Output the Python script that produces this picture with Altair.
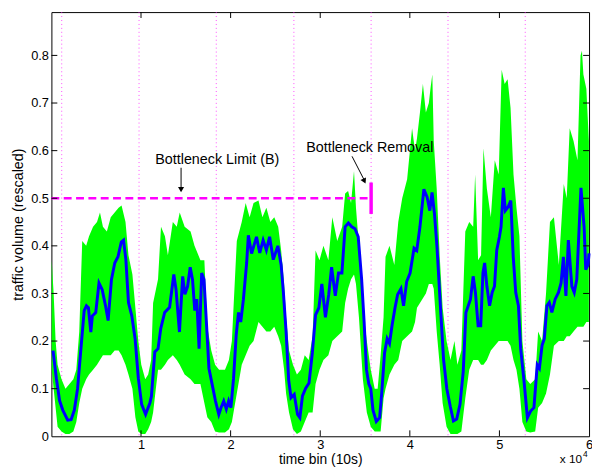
import altair as alt
import pandas as pd

FONT = "Liberation Sans, Arial, Helvetica, sans-serif"

# smoothed series (blue), x in units of 10^4 time bins
blue_x = [0.018, 0.055, 0.091, 0.127, 0.182, 0.220, 0.256, 0.292, 0.330, 0.366,
          0.391, 0.413, 0.440, 0.457, 0.495, 0.531, 0.567, 0.604, 0.633, 0.670,
          0.707, 0.743, 0.780, 0.805, 0.831, 0.860, 0.897, 0.934, 0.970, 1.007,
          1.051, 1.099, 1.116, 1.154, 1.190, 1.220, 1.264, 1.319, 1.366, 1.391,
          1.429, 1.465, 1.490, 1.520, 1.549, 1.575, 1.600, 1.622, 1.648, 1.677,
          1.703, 1.732, 1.758, 1.795, 1.831, 1.868, 1.893, 1.923, 1.952, 1.978,
          2.003, 2.033, 2.062, 2.088, 2.113, 2.143, 2.179, 2.198, 2.234, 2.289,
          2.325, 2.363, 2.399, 2.435, 2.476, 2.527, 2.564, 2.589, 2.619, 2.648,
          2.674, 2.710, 2.747, 2.773, 2.802, 2.838, 2.875, 2.912, 2.948, 2.985,
          3.018, 3.058, 3.095, 3.127, 3.168, 3.204, 3.242, 3.278, 3.314, 3.352,
          3.388, 3.424, 3.462, 3.490, 3.516, 3.542, 3.564, 3.589, 3.626, 3.663,
          3.688, 3.718, 3.747, 3.773, 3.802, 3.835, 3.864, 3.901, 3.930, 3.965,
          4.003, 4.047, 4.077, 4.113, 4.157, 4.193, 4.223, 4.248, 4.275, 4.303,
          4.341, 4.377, 4.413, 4.451, 4.487, 4.523, 4.560, 4.596, 4.626, 4.652,
          4.677, 4.707, 4.732, 4.762, 4.791, 4.816, 4.835, 4.860, 4.890, 4.919,
          4.945, 4.970, 5.000, 5.018, 5.044, 5.066, 5.095, 5.127, 5.154, 5.182,
          5.212, 5.237, 5.275, 5.312, 5.348, 5.385, 5.422, 5.446, 5.476, 5.501,
          5.530, 5.556, 5.585, 5.622, 5.659, 5.688, 5.714, 5.742, 5.769, 5.808,
          5.835, 5.863, 5.910, 5.945, 5.963, 5.989, 6.000]
blue_y = [0.180, 0.122, 0.075, 0.055, 0.034, 0.035, 0.055, 0.100, 0.185, 0.264,
          0.274, 0.270, 0.219, 0.253, 0.260, 0.322, 0.308, 0.274, 0.243, 0.329,
          0.364, 0.377, 0.408, 0.412, 0.371, 0.281, 0.253, 0.205, 0.122, 0.067,
          0.046, 0.070, 0.084, 0.177, 0.184, 0.226, 0.260, 0.271, 0.340, 0.308,
          0.219, 0.336, 0.298, 0.315, 0.355, 0.329, 0.264, 0.288, 0.184, 0.343,
          0.329, 0.232, 0.143, 0.108, 0.074, 0.046, 0.060, 0.074, 0.057, 0.074,
          0.060, 0.122, 0.212, 0.260, 0.240, 0.288, 0.364, 0.422, 0.384, 0.419,
          0.385, 0.412, 0.391, 0.419, 0.371, 0.400, 0.360, 0.302, 0.220, 0.118,
          0.081, 0.088, 0.046, 0.039, 0.085, 0.101, 0.112, 0.175, 0.255, 0.270,
          0.320, 0.250, 0.298, 0.355, 0.295, 0.343, 0.343, 0.440, 0.448, 0.440,
          0.436, 0.419, 0.330, 0.240, 0.140, 0.110, 0.100, 0.055, 0.031, 0.039,
          0.095, 0.175, 0.205, 0.195, 0.233, 0.270, 0.298, 0.310, 0.274, 0.325,
          0.343, 0.395, 0.390, 0.440, 0.519, 0.502, 0.474, 0.512, 0.467, 0.398,
          0.274, 0.160, 0.100, 0.063, 0.032, 0.036, 0.067, 0.136, 0.260, 0.274,
          0.288, 0.336, 0.302, 0.232, 0.232, 0.343, 0.364, 0.315, 0.274, 0.302,
          0.315, 0.391, 0.419, 0.440, 0.522, 0.474, 0.481, 0.495, 0.377, 0.302,
          0.274, 0.184, 0.115, 0.039, 0.053, 0.060, 0.150, 0.143, 0.191, 0.205,
          0.274, 0.281, 0.260, 0.288, 0.302, 0.322, 0.377, 0.295, 0.412, 0.315,
          0.302, 0.329, 0.522, 0.440, 0.350, 0.360, 0.384]

# raw series (green) read as upper / lower envelope
green_x = [0.003, 0.025, 0.047, 0.069, 0.113, 0.157, 0.201, 0.245, 0.278, 0.311,
           0.344, 0.388, 0.420, 0.465, 0.509, 0.542, 0.575, 0.619, 0.662, 0.706,
           0.750, 0.783, 0.827, 0.860, 0.904, 0.937, 0.970, 1.003, 1.047, 1.080,
           1.113, 1.135, 1.190, 1.223, 1.267, 1.300, 1.355, 1.399, 1.432, 1.487,
           1.553, 1.597, 1.663, 1.707, 1.740, 1.784, 1.827, 1.871, 1.937, 1.981,
           2.014, 2.069, 2.124, 2.168, 2.212, 2.256, 2.311, 2.355, 2.399, 2.443,
           2.487, 2.531, 2.564, 2.597, 2.619, 2.652, 2.696, 2.740, 2.784, 2.827,
           2.871, 2.915, 2.948, 2.992, 3.036, 3.091, 3.135, 3.190, 3.245, 3.278,
           3.311, 3.344, 3.377, 3.399, 3.432, 3.476, 3.520, 3.564, 3.608, 3.641,
           3.674, 3.707, 3.729, 3.773, 3.827, 3.871, 3.915, 3.970, 4.025, 4.058,
           4.080, 4.113, 4.146, 4.179, 4.212, 4.234, 4.251, 4.267, 4.300, 4.333,
           4.366, 4.410, 4.454, 4.498, 4.531, 4.575, 4.619, 4.663, 4.707, 4.729,
           4.762, 4.795, 4.822, 4.860, 4.904, 4.948, 4.992, 5.025, 5.058, 5.091,
           5.124, 5.157, 5.190, 5.223, 5.256, 5.300, 5.344, 5.399, 5.432, 5.476,
           5.520, 5.564, 5.608, 5.663, 5.718, 5.751, 5.784, 5.827, 5.871, 5.905,
           5.921, 5.937, 5.970, 5.998]
green_hi = [0.37, 0.30, 0.20, 0.15, 0.12, 0.10, 0.11, 0.12, 0.14, 0.22,
            0.41, 0.40, 0.42, 0.44, 0.45, 0.47, 0.44, 0.43, 0.46, 0.47,
            0.48, 0.485, 0.45, 0.38, 0.34, 0.27, 0.20, 0.15, 0.12, 0.13,
            0.16, 0.28, 0.33, 0.44, 0.42, 0.38, 0.45, 0.44, 0.47, 0.44,
            0.43, 0.40, 0.37, 0.37, 0.23, 0.18, 0.15, 0.14, 0.14, 0.16,
            0.20, 0.41, 0.45, 0.49, 0.46, 0.49, 0.495, 0.46, 0.48, 0.45,
            0.46, 0.44, 0.39, 0.32, 0.25, 0.18, 0.15, 0.13, 0.14, 0.17,
            0.16, 0.21, 0.39, 0.37, 0.40, 0.37, 0.46, 0.41, 0.44, 0.51,
            0.515, 0.49, 0.557, 0.48, 0.40, 0.27, 0.20, 0.14, 0.10, 0.10,
            0.17, 0.25, 0.377, 0.40, 0.36, 0.45, 0.50, 0.54, 0.647, 0.60,
            0.626, 0.68, 0.74, 0.68, 0.70, 0.736, 0.76, 0.62, 0.52, 0.38,
            0.27, 0.20, 0.16, 0.20, 0.15, 0.18, 0.43, 0.45, 0.44, 0.55,
            0.37, 0.38, 0.605, 0.52, 0.46, 0.58, 0.55, 0.77, 0.74, 0.75,
            0.69, 0.55, 0.48, 0.42, 0.20, 0.12, 0.11, 0.12, 0.22, 0.20,
            0.30, 0.45, 0.46, 0.36, 0.53, 0.50, 0.647, 0.62, 0.58, 0.80,
            0.81, 0.76, 0.73, 0.62]
green_lo = [0.14, 0.10, 0.06, 0.02, 0.01, 0.005, 0.005, 0.01, 0.03, 0.07,
            0.10, 0.12, 0.13, 0.14, 0.15, 0.16, 0.17, 0.17, 0.17, 0.18,
            0.18, 0.17, 0.15, 0.13, 0.10, 0.04, 0.01, 0.005, 0.005, 0.015,
            0.03, 0.05, 0.14, 0.14, 0.15, 0.16, 0.17, 0.16, 0.15, 0.13,
            0.12, 0.11, 0.11, 0.07, 0.04, 0.03, 0.01, 0.008, 0.008, 0.015,
            0.03, 0.09, 0.15, 0.17, 0.19, 0.20, 0.24, 0.23, 0.22, 0.22,
            0.23, 0.21, 0.19, 0.14, 0.09, 0.05, 0.015, 0.005, 0.01, 0.03,
            0.05, 0.05, 0.11, 0.14, 0.16, 0.17, 0.20, 0.21, 0.22, 0.28,
            0.31, 0.33, 0.34, 0.32, 0.25, 0.12, 0.05, 0.02, 0.01, 0.01,
            0.01, 0.08, 0.10, 0.13, 0.15, 0.16, 0.20, 0.21, 0.22, 0.24,
            0.27, 0.28, 0.29, 0.30, 0.32, 0.32, 0.32, 0.31, 0.22, 0.15,
            0.07, 0.02, 0.005, 0.005, 0.005, 0.01, 0.08, 0.14, 0.16, 0.16,
            0.16, 0.15, 0.15, 0.16, 0.18, 0.19, 0.20, 0.20, 0.20, 0.20,
            0.19, 0.16, 0.14, 0.10, 0.03, 0.01, 0.008, 0.01, 0.06, 0.07,
            0.09, 0.13, 0.19, 0.20, 0.20, 0.21, 0.21, 0.22, 0.23, 0.23,
            0.23, 0.23, 0.24, 0.24]

day_marks = [0.115, 0.978, 1.840, 2.706, 3.568, 4.426, 5.288]
x_ticks = [1, 2, 3, 4, 5, 6]
y_ticks = [0, 0.1, 0.2, 0.3, 0.4, 0.5, 0.6, 0.7, 0.8]
limit_value = 0.5
removal_x = 3.568
removal_span = [0.467, 0.533]

W, H = 545, 430
xs = alt.Scale(domain=[0, 6], nice=False, zero=False)
ys = alt.Scale(domain=[0, 0.891], nice=False, zero=False)

blue_df = pd.DataFrame({"x": blue_x, "y": blue_y})
green_df = pd.DataFrame({"x": green_x, "hi": green_hi, "lo": green_lo})

x_axis = alt.Axis(values=x_ticks, format="d", title="time bin (10s)", grid=False,
                  ticks=False, domain=False, labelFlush=False, labelFontSize=13,
                  labelPadding=2, labelColor="black", labelFont=FONT,
                  titleFont=FONT, titleFontSize=14, titleFontWeight="normal",
                  titleColor="black", titleBaseline="alphabetic", titleY=28)
y_axis = alt.Axis(values=y_ticks, format="~g", title="traffic volume (rescaled)",
                  grid=False, ticks=False, domain=False, labelFlush=False,
                  labelFontSize=13, labelPadding=3, labelColor="black",
                  labelFont=FONT, titleFont=FONT, titleFontSize=14.5,
                  titleFontWeight="normal", titleColor="black",
                  titleAngle=270, titleBaseline="alphabetic", titleAlign="center",
                  titleX=-29, titleY=H / 2)

dotted = alt.Chart(pd.DataFrame({"x": day_marks})).mark_rule(
    color="#ff00ff", strokeWidth=1, strokeDash=[1, 3], opacity=0.7
).encode(x=alt.X("x:Q", scale=xs, axis=x_axis))

green = alt.Chart(green_df).mark_area(color="#00ff00", opacity=1).encode(
    x=alt.X("x:Q", scale=xs, axis=x_axis),
    y=alt.Y("hi:Q", scale=ys, axis=y_axis),
    y2="lo:Q",
)

blue = alt.Chart(blue_df).mark_line(color="#0000ff", strokeWidth=3).encode(
    x=alt.X("x:Q", scale=xs), y=alt.Y("y:Q", scale=ys)
)

limit = alt.Chart(pd.DataFrame({"x0": [0], "x1": [removal_x], "y": [limit_value]})).mark_rule(
    color="#ff00ff", strokeWidth=2.5, strokeDash=[8, 4.5]
).encode(x=alt.X("x0:Q", scale=xs), x2="x1:Q", y=alt.Y("y:Q", scale=ys))

removal = alt.Chart(pd.DataFrame({"x": [removal_x], "y0": [removal_span[0]], "y1": [removal_span[1]]})).mark_rule(
    color="#ff00ff", strokeWidth=3.5
).encode(x=alt.X("x:Q", scale=xs), y=alt.Y("y0:Q", scale=ys), y2="y1:Q")

# annotations
labels_df = pd.DataFrame({"x": [1.851, 3.553], "y": [0.572, 0.597],
                          "t": ["Bottleneck Limit (B)", "Bottleneck Removal"]})
labels = alt.Chart(labels_df).mark_text(font=FONT, fontSize=14.5, color="black",
                                        baseline="alphabetic", align="center").encode(
    x=alt.X("x:Q", scale=xs), y=alt.Y("y:Q", scale=ys), text="t:N")

arrows_df = pd.DataFrame({"x0": [1.447, 3.355], "y0": [0.564, 0.588],
                          "x1": [1.447, 3.497], "y1": [0.522, 0.536]})
arrow_lines = alt.Chart(arrows_df).mark_rule(color="black", strokeWidth=1).encode(
    x=alt.X("x0:Q", scale=xs), y=alt.Y("y0:Q", scale=ys), x2="x1:Q", y2="y1:Q")
head1 = alt.Chart(pd.DataFrame({"x": [1.447], "y": [0.518]})).mark_point(
    shape="triangle-down", filled=True, color="black", size=38, opacity=1
).encode(x=alt.X("x:Q", scale=xs), y=alt.Y("y:Q", scale=ys))
head2 = alt.Chart(pd.DataFrame({"x": [3.493], "y": [0.536]})).mark_point(
    shape="triangle-down", filled=True, color="black", size=38, opacity=1, angle=334
).encode(x=alt.X("x:Q", scale=xs), y=alt.Y("y:Q", scale=ys))

# inside tick marks on all four sides (MATLAB box style)
xt_df = pd.DataFrame({"v": x_ticks[:-1]})
yt_df = pd.DataFrame({"v": y_ticks[1:]})
xt_bottom = alt.Chart(xt_df).mark_rule(color="black", strokeWidth=1).encode(
    x=alt.X("v:Q", scale=xs), y=alt.value(H), y2=alt.value(H - 6))
xt_top = alt.Chart(xt_df).mark_rule(color="black", strokeWidth=1).encode(
    x=alt.X("v:Q", scale=xs), y=alt.value(0), y2=alt.value(6))
yt_left = alt.Chart(yt_df).mark_rule(color="black", strokeWidth=1).encode(
    y=alt.Y("v:Q", scale=ys), x=alt.value(0), x2=alt.value(6))
yt_right = alt.Chart(yt_df).mark_rule(color="black", strokeWidth=1).encode(
    y=alt.Y("v:Q", scale=ys), x=alt.value(W), x2=alt.value(W - 6))

exp_text = alt.Chart(pd.DataFrame({"t": ["x 10"]})).mark_text(
    font=FONT, fontSize=12, color="black", align="right", baseline="alphabetic"
).encode(x=alt.value(538), y=alt.value(457), text="t:N")
exp_sup = alt.Chart(pd.DataFrame({"t": ["4"]})).mark_text(
    font=FONT, fontSize=8.5, color="black", align="left", baseline="alphabetic"
).encode(x=alt.value(539), y=alt.value(451), text="t:N")

chart = alt.layer(
    dotted, green, blue, limit, removal, arrow_lines, head1, head2, labels,
    xt_bottom, xt_top, yt_left, yt_right, exp_text, exp_sup
).properties(
    width=W, height=H,
    autosize=alt.AutoSizeParams(type="none"),
    padding={"left": 44, "top": 1, "right": 3, "bottom": 28},
    background="white",
).configure_view(stroke="black", strokeWidth=1)

chart.save("out.html", embed_options={"renderer": "svg", "actions": False})
